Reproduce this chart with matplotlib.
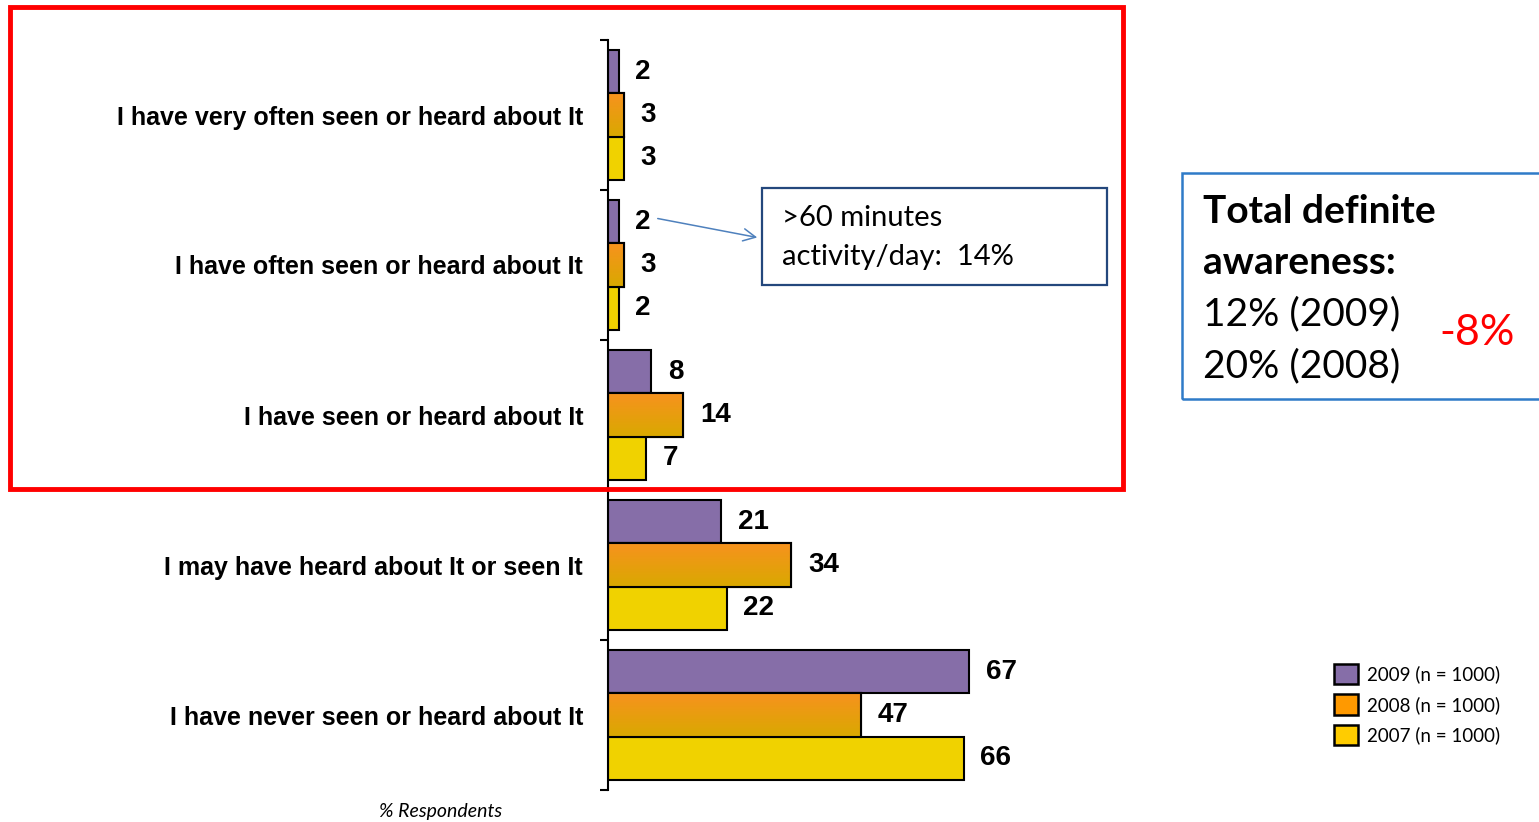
import numpy as np
import matplotlib
matplotlib.use("Agg")
import matplotlib.pyplot as plt
from matplotlib.patches import Rectangle, FancyArrowPatch, Patch
from matplotlib.colors import to_rgb

categories = [
    "I have very often seen or heard about It",
    "I have often seen or heard about It",
    "I have seen or heard about It",
    "I may have heard about It or seen It",
    "I have never seen or heard about It",
]
series_names = ["2009 (n = 1000)", "2008 (n = 1000)", "2007 (n = 1000)"]
values_2009 = [2, 2, 8, 21, 67]
values_2008 = [3, 3, 14, 34, 47]
values_2007 = [3, 2, 7, 22, 66]

W, H = 1539, 822
PURPLE = "#866EA8"
ORANGE_TOP = "#F7921E"
ORANGE_BOT = "#D9A900"
YELLOW = "#F0D200"


def fx(x):
    return x / W


def fy(y):
    return 1 - y / H


fig = plt.figure(figsize=(W / 100, H / 100), dpi=100)
ax = fig.add_axes([fx(608), fy(790), fx(1147) - fx(608), fy(40) - fy(790)])

y = np.arange(len(categories))
bh = 0.287
series = [values_2009, values_2008, values_2007]
offsets = [-bh, 0, bh]

bars = []
for vals, off, col in zip(series, offsets, [PURPLE, ORANGE_TOP, YELLOW]):
    b = ax.barh(y + off, vals, height=bh, color=col, edgecolor="black",
                linewidth=1.5, zorder=2)
    bars.append(b)

# gradient fill on the 2008 bars
grad = np.linspace(0, 1, 64)[:, None, None]
c0, c1 = np.array(to_rgb(ORANGE_TOP)), np.array(to_rgb(ORANGE_BOT))
img = c0 * (1 - grad) + c1 * grad
for patch, v, yc in zip(bars[1], values_2008, y):
    im = ax.imshow(img, extent=(0, v, yc + bh / 2, yc - bh / 2), origin="upper",
                   aspect="auto", zorder=2.5, interpolation="bilinear")
    im.set_clip_path(patch)
ax.barh(y, values_2008, height=bh, fill=False, edgecolor="black", linewidth=1.5, zorder=3)

for vals, off in zip(series, offsets):
    for v, yc in zip(vals, y):
        ax.annotate(str(v), (v, yc + off), xytext=(12, 0), textcoords="offset points",
                    ha="left", va="center", fontsize=20, fontweight="bold",
                    family="Liberation Sans")

ax.set_xlim(0, 100)
ax.set_ylim(len(categories) - 0.5, -0.5)
for s in ["top", "right", "bottom"]:
    ax.spines[s].set_visible(False)
ax.spines["left"].set_linewidth(1.5)
ax.set_xticks([])
ax.set_yticks(y)
ax.set_yticklabels(categories, fontsize=18, fontweight="heavy", family="Liberation Sans")
ax.tick_params(axis="y", which="major", length=0, pad=18)
ax.set_yticks(np.arange(-0.5, len(categories)), minor=True)
ax.tick_params(axis="y", which="minor", length=6, width=1.5, direction="out")

fig.text(fx(441), fy(811), "% Respondents", ha="center", va="center",
         fontsize=14, style="italic", family="Lato")

# red highlight frame
fig.add_artist(Rectangle((fx(10), fy(489)), fx(1123) - fx(10), fy(7) - fy(489),
                         transform=fig.transFigure, fill=False, edgecolor="#FF0000",
                         linewidth=3.5, zorder=5))

# callout box
fig.add_artist(Rectangle((fx(762), fy(285)), fx(1107) - fx(762), fy(188) - fy(285),
                         transform=fig.transFigure, fill=False, edgecolor="#24477C",
                         linewidth=1.6, zorder=5))
fig.text(fx(782), fy(218), ">60 minutes", ha="left", va="center",
         fontsize=21, family="Lato")
fig.text(fx(782), fy(257), "activity/day:  14%", ha="left", va="center",
         fontsize=21, family="Lato")
fig.add_artist(FancyArrowPatch((fx(655), fy(218)), (fx(760), fy(238)),
                               transform=fig.transFigure, arrowstyle="->",
                               mutation_scale=22, color="#4F81BD", linewidth=1.1))

# awareness box
fig.add_artist(Rectangle((fx(1182), fy(399)), fx(1560) - fx(1182), fy(173) - fy(399),
                         transform=fig.transFigure, fill=False, edgecolor="#2F7BC8",
                         linewidth=1.8, zorder=5))
box_lines = [("Total definite", "bold", 211), ("awareness:", "bold", 263),
             ("12% (2009)", "normal", 314), ("20% (2008)", "normal", 366)]
for txt, wt, ypx in box_lines:
    fig.text(fx(1203), fy(ypx), txt, ha="left", va="center",
             fontsize=28, fontweight=wt, family="Lato")
fig.text(fx(1477), fy(333), "-8%", ha="center", va="center",
         fontsize=31, color="#FF0000", family="Lato")

handles = [Patch(facecolor=c, edgecolor="black", linewidth=1.8)
           for c in [PURPLE, "#FF9900", "#FFCC00"]]
fig.legend(handles, series_names, loc="upper left",
           bbox_to_anchor=(fx(1326), fy(656)), frameon=False,
           prop={"family": "Lato", "size": 13.5}, handlelength=1.3, handleheight=1.3,
           labelspacing=0.55, handletextpad=0.5, borderaxespad=0)

fig.savefig("out.png", dpi=100)
